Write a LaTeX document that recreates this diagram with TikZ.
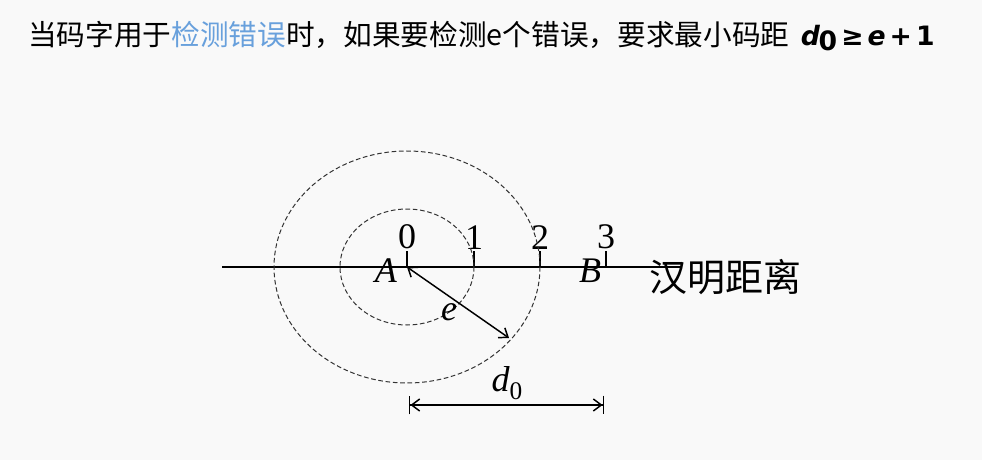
\documentclass[tikz,border=0pt]{standalone}
\usepackage{fontspec}
\setmainfont{Liberation Serif}
\newfontfamily\cjk{Noto Sans CJK SC}
\newfontfamily\formfont{DejaVu Sans}
\usetikzlibrary{arrows.meta}
\definecolor{hlblue}{RGB}{104,160,220}
\newcommand\ital[1]{\textit{#1}}

\begin{document}
\begin{tikzpicture}[>={Straight Barb[length=6pt,width=9pt]}, x=0.75pt, y=-0.75pt,
  lbl/.style={font=\fontsize{27}{27}\selectfont, inner sep=0pt},
  ring/.style={dash pattern=on 3.5pt off 2pt, line width=0.75pt, black!80},
  dimline/.style={arrows={Bar[width=14pt]Straight Barb[length=6pt,width=9pt]-Straight Barb[length=6pt,width=9pt]Bar[width=14pt]}, line width=1.1pt}]
\useasboundingbox[fill=gray!5] (0,0) rectangle (982,460);
% title line
\node[anchor=west, inner sep=0pt, font=\cjk\fontsize{21.5}{22}\selectfont] (title) at (28,36)
  {当码字用于\textcolor{hlblue}{检测错误}时，如果要检测e个错误，要求最小码距\hspace{0.4em}%
   {\formfont\fontsize{20}{20}\selectfont\bfseries\itshape d\kern-0.05em\raisebox{-0.35ex}{\upshape 0}\kern0.15em≥\kern0.15em e\kern0.15em\upshape+\kern0.15em1}};
% axis
\coordinate (l) at (222,267);
\coordinate (r) at (682,267);
\draw[line width=0.9pt] (l) -- (r);
\foreach \i/\x in {0/407,1/474,2/540,3/606}{
  \coordinate (t\i) at (\x,267);
  \draw[line width=0.9pt] (t\i) -- ++(0,-16) node[lbl, above=1pt] (n\i) {\i};
}
\node[lbl] (A) at (386,271) {\ital{A}};
\node[lbl] (B) at (590,271) {\ital{B}};
\node[anchor=west, inner sep=0pt, font=\cjk\fontsize{28.5}{28}\selectfont] (hd) at (649,277) {汉明距离};
% spheres round A
\draw[ring] (t0) ellipse [x radius=67, y radius=58];
\draw[ring] (t0) ellipse [x radius=133, y radius=116];
\coordinate (ee) at (509,338);
\draw[<->, line width=1.1pt] (t0) -- (ee);
\node[lbl] (e) at (449,312) {\ital{e}};
% d0
\coordinate (d1) at (409,405);
\coordinate (d2) at (604,405);
\draw[dimline] (d1) -- (d2);
\node[lbl] (d0) at (507,383) {\ital{d}\raisebox{-0.5ex}{\fontsize{19}{19}\selectfont 0}};
\end{tikzpicture}
\end{document}
